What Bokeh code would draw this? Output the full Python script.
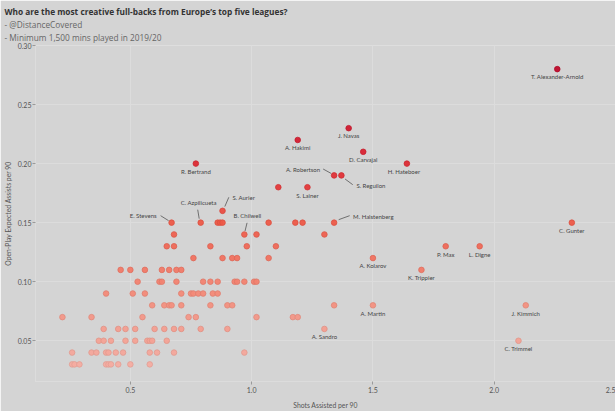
import numpy as np
from bokeh.plotting import figure
from bokeh.models import Range1d, Title, FixedTicker, ColumnDataSource
from bokeh.embed import file_html
from bokeh.resources import INLINE
from bokeh.core.properties import value

# ---------------- data ----------------
title_lines = [
    "Who are the most creative full-backs from Europe\u2019s top five leagues?",
    "- @DistanceCovered",
    "- Minimum 1,500 mins played in 2019/20",
]
x_label = "Shots Assisted per 90"
y_label = "Open-Play Expected Assists per 90"
x_ticks = [0.5, 1.0, 1.5, 2.0, 2.5]
y_ticks = [0.05, 0.10, 0.15, 0.20, 0.25, 0.30]

named_players = ["T. Alexander-Arnold", "J. Navas", "A. Hakimi", "D. Carvajal", "H. Hateboer",
                 "R. Bertrand", "A. Robertson", "S. Reguilon", "S. Lainer", "S. Aurier",
                 "E. Stevens", "C. Azpilicueta", "M. Halstenberg", "C. Gunter", "B. Chilwell",
                 "P. Max", "L. Digne", "A. Kolarov", "K. Trippier", "A. Martin",
                 "J. Kimmich", "A. Sandro", "C. Trimmel"]
named_shots_assisted = [2.26, 1.40, 1.19, 1.46, 1.64,
                        0.77, 1.34, 1.37, 1.23, 0.88,
                        0.67, 0.79, 1.34, 2.32, 0.97,
                        1.80, 1.94, 1.50, 1.70, 1.50,
                        2.13, 1.30, 2.10]
named_xa = [0.28, 0.23, 0.22, 0.21, 0.20,
            0.20, 0.19, 0.19, 0.18, 0.16,
            0.15, 0.15, 0.15, 0.15, 0.14,
            0.13, 0.13, 0.12, 0.11, 0.08,
            0.08, 0.06, 0.05]

# unlabelled full-backs, one list of shots-assisted values per xA row
other_xa_rows = [0.18, 0.15, 0.14, 0.13, 0.12, 0.11, 0.10, 0.09, 0.08, 0.07, 0.06, 0.05, 0.04, 0.03]
other_shots_assisted = [
    [1.11],
    [0.86, 0.87, 0.88, 1.07, 1.18, 1.21],
    [0.68, 1.02, 1.30],
    [0.65, 0.68, 0.83, 0.98, 1.10],
    [0.76, 0.88, 0.92, 0.94, 1.07],
    [0.46, 0.50, 0.56, 0.63, 0.66, 0.69, 0.71],
    [0.53, 0.62, 0.63, 0.69, 0.80, 0.83, 0.86, 0.93, 0.94, 0.97, 1.01, 1.02],
    [0.40, 0.51, 0.56, 0.71, 0.75, 0.76, 0.78, 0.80, 0.84, 0.86],
    [0.59, 0.64, 0.66, 0.67, 0.71, 0.83, 0.90, 0.92, 1.34],
    [0.22, 0.34, 0.55, 0.74, 0.77, 1.02, 1.17, 1.19],
    [0.39, 0.45, 0.48, 0.52, 0.60, 0.64, 0.68, 0.71, 0.79, 0.90],
    [0.37, 0.39, 0.42, 0.48, 0.52, 0.57, 0.58, 0.59, 0.65],
    [0.26, 0.34, 0.36, 0.40, 0.41, 0.44, 0.47, 0.58, 0.61, 0.68, 0.97],
    [0.26, 0.27, 0.29, 0.40, 0.41, 0.42, 0.45, 0.50, 0.58],
]

# ---------------- styling ----------------
W, H = 615, 411
BL, BR, BT, BB = 33, 0, 45, 29
X0, X1 = 0.109, 2.5
Y0, Y1 = 0.0155, 0.30
BG = "#d4d4d4"
GRID = "#dcdcdc"
FONT = "Lato"
TFONT = "Open Sans"

# label placement (pixel offsets of the label from its point), style only
label_style = {
    "E. Stevens": ("right", -15, -7),
    "C. Azpilicueta": ("center", -2, -20),
    "S. Aurier": ("left", 10, -13),
    "B. Chilwell": ("center", 3, -19),
    "A. Robertson": ("right", -14, -6),
    "S. Reguilon": ("left", 15, 10),
    "M. Halstenberg": ("left", 19, -6),
    "H. Hateboer": ("center", -3, 8),
}
leader_style = {
    "E. Stevens": (-11, -7, -3, -2),
    "C. Azpilicueta": (-3, -13, -1.5, -4),
    "S. Aurier": (2.3, -4.3, 6.3, -13.6),
    "B. Chilwell": (0.7, -3.5, 2.7, -11.7),
    "A. Robertson": (-11, -6.4, -3, -2),
    "S. Reguilon": (3.7, 3.6, 11.4, 9.3),
    "M. Halstenberg": (4.6, -3, 15.6, -7),
}

stops_v = [0.03, 0.06, 0.09, 0.12, 0.15, 0.18, 0.21, 0.24, 0.28]
stops_c = ["#f5aca1", "#f49e90", "#f38a78", "#f17260", "#ed5847", "#e4393a", "#d92331", "#cc172f", "#bf0b2b"]


def hex2rgb(h):
    return np.array([int(h[i:i + 2], 16) for i in (1, 3, 5)], dtype=float)


def colour_for(v, dark=1.0):
    rgb = np.array([np.interp(v, stops_v, [hex2rgb(c)[k] for c in stops_c]) for k in range(3)]) * dark
    rgb = np.clip(rgb, 0, 255).astype(int)
    return "#%02x%02x%02x" % tuple(rgb)


# ---------------- figure ----------------
p = figure(width=W, height=H, output_backend="svg", toolbar_location=None,
           x_range=Range1d(X0, X1), y_range=Range1d(Y0, Y1), title=None,
           min_border_left=BL, min_border_right=BR, min_border_top=BT, min_border_bottom=BB,
           background_fill_color=BG, border_fill_color=BG, outline_line_color=None)

p.xaxis.ticker = FixedTicker(ticks=x_ticks)
p.yaxis.ticker = FixedTicker(ticks=y_ticks)
p.xaxis.major_label_overrides = {t: f"{t:.1f}" for t in x_ticks}
p.yaxis.major_label_overrides = {t: f"{t:.2f}" for t in y_ticks}
p.xaxis.axis_label = x_label
p.yaxis.axis_label = y_label
for ax in (p.xaxis[0], p.yaxis[0]):
    ax.axis_line_color = GRID
    ax.major_tick_line_color = "#9a9a9a"
    ax.major_tick_out = 3
    ax.major_tick_in = 0
    ax.minor_tick_line_color = None
    ax.major_label_text_font = FONT
    ax.major_label_text_font_size = "7px"
    ax.major_label_text_color = "#555555"
    ax.axis_label_text_font = FONT
    ax.axis_label_text_font_size = "6.8px"
    ax.axis_label_text_font_style = "normal"
    ax.axis_label_text_color = "#555555"
p.yaxis.major_label_standoff = 1
p.yaxis.axis_label_standoff = 3
p.xaxis.major_label_standoff = 2
p.xaxis.axis_label_standoff = 5
p.grid.grid_line_color = GRID
p.grid.grid_line_width = 1

# titles (last added sits on top)
t3 = Title(text=title_lines[2], text_font=TFONT, text_font_size="8.3px", text_font_style="normal",
           text_color="#666666", offset=-BL + 2, standoff=5)
t2 = Title(text=title_lines[1], text_font=TFONT, text_font_size="8.3px", text_font_style="normal",
           text_color="#666666", offset=-BL + 2, standoff=-4)
t1 = Title(text=title_lines[0], text_font=TFONT, text_font_size="8.3px", text_font_style="bold",
           text_color="#333333", offset=-BL + 2, standoff=4)
p.add_layout(t3, "above")
p.add_layout(t2, "above")
p.add_layout(t1, "above")

# points: unlabelled + labelled, drawn low to high
xs, ys = [], []
for row, vals in zip(other_xa_rows, other_shots_assisted):
    xs += vals
    ys += [row] * len(vals)
xs += named_shots_assisted
ys += named_xa
order = np.argsort(ys, kind="stable")
xs = [xs[i] for i in order]
ys = [ys[i] for i in order]
fills = [colour_for(v) for v in ys]
lines = [colour_for(v, 0.92) for v in ys]
src = ColumnDataSource(dict(x=xs, y=ys, fill=fills, line=lines))
p.scatter("x", "y", source=src, size=5.6, fill_color="fill", line_color="line",
          line_width=0.8, fill_alpha=0.95)

# leader lines
sx = (W - BL - BR) / (X1 - X0)
sy = (H - BT - BB) / (Y1 - Y0)
lx0, ly0, lx1, ly1 = [], [], [], []
for name, (a, b, c, d) in leader_style.items():
    i = named_players.index(name)
    x, y = named_shots_assisted[i], named_xa[i]
    lx0.append(x + a / sx); ly0.append(y - b / sy)
    lx1.append(x + c / sx); ly1.append(y - d / sy)
p.segment(lx0, ly0, lx1, ly1, line_color="#555555", line_width=0.8)

# labels
groups = {}
for name, x, y in zip(named_players, named_shots_assisted, named_xa):
    align, dx, dy = label_style.get(name, ("center", 0, 7.8))
    g = groups.setdefault(align, dict(x=[], y=[], t=[], dx=[], dy=[]))
    g["x"].append(x); g["y"].append(y); g["t"].append(name); g["dx"].append(dx); g["dy"].append(dy)
for align, g in groups.items():
    s = ColumnDataSource(g)
    p.text("x", "y", text="t", source=s, x_offset="dx", y_offset="dy",
           text_align=align, text_baseline="middle", text_font=value(FONT),
           text_font_size="6px", text_color="#444444")

open("out.html", "w").write(file_html(p, INLINE))
